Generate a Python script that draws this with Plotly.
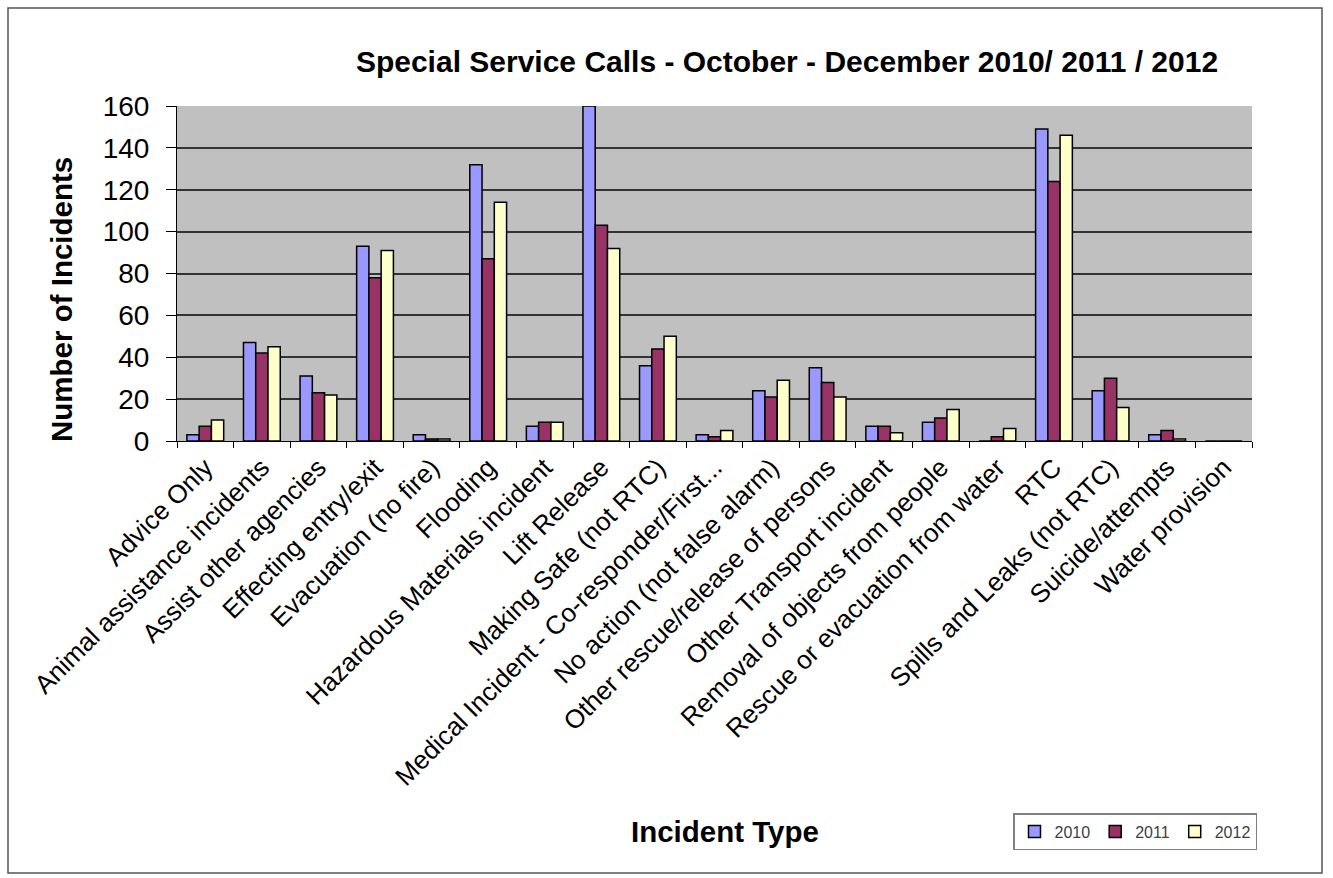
import plotly.graph_objects as go

categories = [
    "Advice Only", "Animal assistance incidents", "Assist other agencies",
    "Effecting entry/exit", "Evacuation (no fire)", "Flooding",
    "Hazardous Materials incident", "Lift Release", "Making Safe (not RTC)",
    "Medical Incident - Co-responder/First...", "No action (not false alarm)",
    "Other rescue/release of persons", "Other Transport incident",
    "Removal of objects from people", "Rescue or evacuation from water",
    "RTC", "Spills and Leaks (not RTC)", "Suicide/attempts", "Water provision",
]
v2010 = [3, 47, 31, 93, 3, 132, 7, 160, 36, 3, 24, 35, 7, 9, 0, 149, 24, 3, 0]
v2011 = [7, 42, 23, 78, 1, 87, 9, 103, 44, 2, 21, 28, 7, 11, 2, 124, 30, 5, 0]
v2012 = [10, 45, 22, 91, 1, 114, 9, 92, 50, 5, 29, 21, 4, 15, 6, 146, 16, 1, 0]
series_names = ["2010", "2011", "2012"]
colors = ["#9999FF", "#993366", "#FFFFCC"]

FONT = "Liberation Sans, Arial, sans-serif"

fig = go.Figure()
for name, vals, col in zip(series_names, [v2010, v2011, v2012], colors):
    fig.add_trace(go.Bar(
        x=categories, y=vals, name=name,
        marker=dict(color=col, line=dict(color="#000000", width=1.5)),
    ))

L, R, T, B = 177, 1252, 106, 441
W, H = 1333, 878
pw, ph = R - L, B - T

def px2x(px):
    return (px - L) / pw

def py2y(py):
    return (B - py) / ph

fig.update_layout(
    width=W, height=H,
    margin=dict(l=L, r=W - R, t=T, b=H - B, autoexpand=False),
    paper_bgcolor="white",
    plot_bgcolor="#C0C0C0",
    barmode="group",
    bargap=0.35,
    bargroupgap=0,
    font=dict(family=FONT, color="black"),
    showlegend=True,
    legend=dict(
        orientation="h", x=px2x(1013), y=py2y(813), xanchor="left", yanchor="top",
        bgcolor="white", bordercolor="#808080", borderwidth=1.5,
        font=dict(size=16, color="#404040"),
        itemwidth=30, traceorder="normal",
    ),
    title=dict(
        text="<b>Special Service Calls - October - December 2010/ 2011 / 2012</b>",
        x=787 / W, xanchor="center", y=1 - 61 / H, yanchor="middle",
        font=dict(size=30, family=FONT, color="black"),
    ),
    xaxis=dict(
        type="category",
        tickangle=-45,
        tickfont=dict(size=26, family=FONT, color="black"),
        ticks="outside", tickson="boundaries", ticklen=6, tickcolor="black",
        showline=True, linecolor="black", linewidth=1,
        showgrid=False,
    ),
    yaxis=dict(
        range=[0, 160], dtick=20,
        tickfont=dict(size=28, family=FONT, color="black"),
        ticks="outside", ticklen=10, tickcolor="black",
        ticklabelstandoff=11,
        showline=True, linecolor="black", linewidth=1,
        showgrid=True, gridcolor="#333333", gridwidth=1.5,
        zeroline=False,
    ),
    annotations=[
        dict(text="<b>Number of Incidents</b>", xref="paper", yref="paper",
             x=px2x(61), y=py2y(300), textangle=-90, showarrow=False,
             font=dict(size=29.5, family=FONT, color="black"),
             xanchor="center", yanchor="middle"),
        dict(text="<b>Incident Type</b>", xref="paper", yref="paper",
             x=px2x(725), y=py2y(831), showarrow=False,
             font=dict(size=29.5, family=FONT, color="black"),
             xanchor="center", yanchor="middle"),
    ],
    shapes=[
        dict(type="rect", xref="paper", yref="paper",
             x0=px2x(8), x1=px2x(1322), y0=py2y(873), y1=py2y(8),
             line=dict(color="#555555", width=1.5), fillcolor="rgba(0,0,0,0)",
             layer="below"),
    ],
)

fig.write_html("out.html", config={"displayModeBar": False},
               post_script="document.body.style.margin='0px';")
